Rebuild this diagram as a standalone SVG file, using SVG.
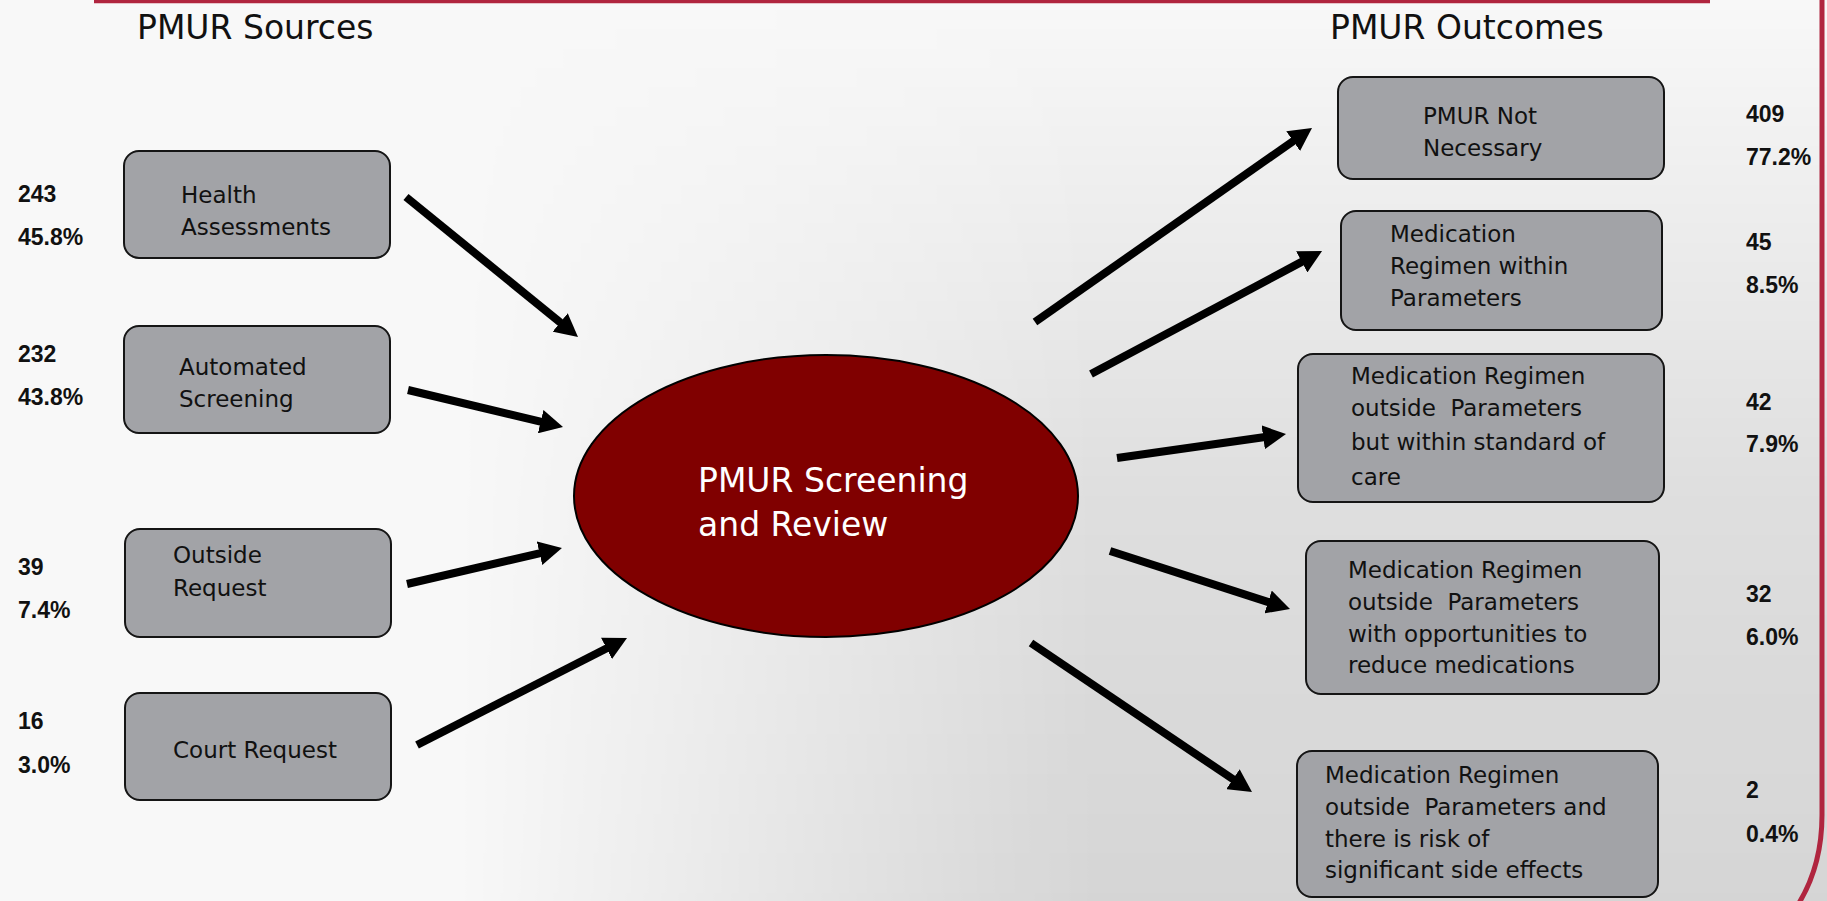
<svg xmlns="http://www.w3.org/2000/svg" width="1827" height="901" viewBox="0 0 1827 901">
<defs>
<style>
.box{fill:#a2a3a7;stroke:#151515;stroke-width:2}
.bt{font-family:"DejaVu Sans","Liberation Sans",sans-serif;font-size:23px;fill:#111}
.num{font-family:"Liberation Sans",Arial,sans-serif;font-size:23px;font-weight:bold;fill:#111}
.title{font-family:"DejaVu Sans","Liberation Sans",sans-serif;font-size:33px;fill:#111}
.ct{font-family:"DejaVu Sans","Liberation Sans",sans-serif;font-size:33px;fill:#fff}
.arr{stroke:#000;stroke-width:8;fill:none;marker-end:url(#ah)}
.frame{stroke:#b0253f;fill:none}
</style>
<marker id="ah" markerUnits="userSpaceOnUse" markerWidth="24" markerHeight="24" viewBox="0 0 24 24" refX="2" refY="12" orient="auto">
<path d="M0,0 L23,12 L0,24 z" fill="#000"/>
</marker>
<linearGradient id="hg" x1="0" y1="0" x2="1827" y2="0" gradientUnits="userSpaceOnUse">
<stop offset="0.25" stop-color="#000"/>
<stop offset="0.6" stop-color="#fff"/>
</linearGradient>
<linearGradient id="vg" x1="0" y1="0" x2="0" y2="901" gradientUnits="userSpaceOnUse">
<stop offset="0" stop-color="#000" stop-opacity="0"/>
<stop offset="0.55" stop-color="#000" stop-opacity="0.1"/>
<stop offset="1" stop-color="#000" stop-opacity="0.14"/>
</linearGradient>
<mask id="hm" maskUnits="userSpaceOnUse" x="0" y="0" width="1827" height="901">
<rect x="0" y="0" width="1827" height="901" fill="url(#hg)"/>
</mask>
</defs>
<rect x="0" y="0" width="1827" height="901" fill="#f8f8f8"/>
<rect x="0" y="0" width="1827" height="901" fill="url(#vg)" mask="url(#hm)"/>
<g id="frame">
<line class="frame" x1="94" y1="1.5" x2="1710" y2="1.5" stroke-width="3.5"/>
<path class="frame" d="M1822,0 L1822,815 Q1822,865 1799,903" stroke-width="5"/>
</g>
<g id="titles">
<text class="title" x="137" y="39">PMUR Sources</text>
<text class="title" x="1330" y="39">PMUR Outcomes</text>
</g>
<g id="connectors">
<line class="arr" x1="406" y1="197" x2="561.7" y2="323.7"/>
<line class="arr" x1="408" y1="390" x2="542.6" y2="422.1"/>
<line class="arr" x1="407" y1="584" x2="541.5" y2="552.8"/>
<line class="arr" x1="417" y1="745" x2="608.3" y2="647.5"/>
<line class="arr" x1="1035" y1="322" x2="1294.8" y2="140"/>
<line class="arr" x1="1091" y1="374" x2="1303.5" y2="260.9"/>
<line class="arr" x1="1117" y1="458" x2="1265.2" y2="437"/>
<line class="arr" x1="1110" y1="551" x2="1270" y2="602.6"/>
<line class="arr" x1="1031" y1="643" x2="1234.6" y2="780.3"/>
</g>
<g id="center">
<ellipse cx="826" cy="496" rx="252" ry="141" fill="#800000" stroke="#000" stroke-width="2"/>
<text class="ct" x="698" y="492">PMUR Screening</text>
<text class="ct" x="698" y="536">and Review</text>
</g>
<g id="src-health">
<rect class="box" x="124" y="151" width="266" height="107" rx="15"/>
<text class="bt" x="181" y="203">Health</text>
<text class="bt" x="181" y="235">Assessments</text>
<text class="num" x="18" y="202">243</text>
<text class="num" x="18" y="245">45.8%</text>
</g>
<g id="src-auto">
<rect class="box" x="124" y="326" width="266" height="107" rx="15"/>
<text class="bt" x="179" y="375">Automated</text>
<text class="bt" x="179" y="407">Screening</text>
<text class="num" x="18" y="362">232</text>
<text class="num" x="18" y="405">43.8%</text>
</g>
<g id="src-outside">
<rect class="box" x="125" y="529" width="266" height="108" rx="15"/>
<text class="bt" x="173" y="563">Outside</text>
<text class="bt" x="173" y="596">Request</text>
<text class="num" x="18" y="575">39</text>
<text class="num" x="18" y="618">7.4%</text>
</g>
<g id="src-court">
<rect class="box" x="125" y="693" width="266" height="107" rx="15"/>
<text class="bt" x="173" y="758">Court Request</text>
<text class="num" x="18" y="729">16</text>
<text class="num" x="18" y="773">3.0%</text>
</g>
<g id="out-notnec">
<rect class="box" x="1338" y="77" width="326" height="102" rx="15"/>
<text class="bt" x="1423" y="124">PMUR Not</text>
<text class="bt" x="1423" y="156">Necessary</text>
<text class="num" x="1746" y="122">409</text>
<text class="num" x="1746" y="165">77.2%</text>
</g>
<g id="out-within">
<rect class="box" x="1341" y="211" width="321" height="119" rx="15"/>
<text class="bt" x="1390" y="242">Medication</text>
<text class="bt" x="1390" y="274">Regimen within</text>
<text class="bt" x="1390" y="306">Parameters</text>
<text class="num" x="1746" y="250">45</text>
<text class="num" x="1746" y="293">8.5%</text>
</g>
<g id="out-standard">
<rect class="box" x="1298" y="354" width="366" height="148" rx="15"/>
<text class="bt" x="1351" y="384">Medication Regimen</text>
<text class="bt" x="1351" y="416" xml:space="preserve">outside  Parameters</text>
<text class="bt" x="1351" y="450">but within standard of</text>
<text class="bt" x="1351" y="485">care</text>
<text class="num" x="1746" y="410">42</text>
<text class="num" x="1746" y="452">7.9%</text>
</g>
<g id="out-reduce">
<rect class="box" x="1306" y="541" width="353" height="153" rx="15"/>
<text class="bt" x="1348" y="578">Medication Regimen</text>
<text class="bt" x="1348" y="610" xml:space="preserve">outside  Parameters</text>
<text class="bt" x="1348" y="642">with opportunities to</text>
<text class="bt" x="1348" y="673">reduce medications</text>
<text class="num" x="1746" y="602">32</text>
<text class="num" x="1746" y="645">6.0%</text>
</g>
<g id="out-risk">
<rect class="box" x="1297" y="751" width="361" height="146" rx="15"/>
<text class="bt" x="1325" y="783">Medication Regimen</text>
<text class="bt" x="1325" y="815" xml:space="preserve">outside  Parameters and</text>
<text class="bt" x="1325" y="847">there is risk of</text>
<text class="bt" x="1325" y="878">significant side effects</text>
<text class="num" x="1746" y="798">2</text>
<text class="num" x="1746" y="842">0.4%</text>
</g>
</svg>
